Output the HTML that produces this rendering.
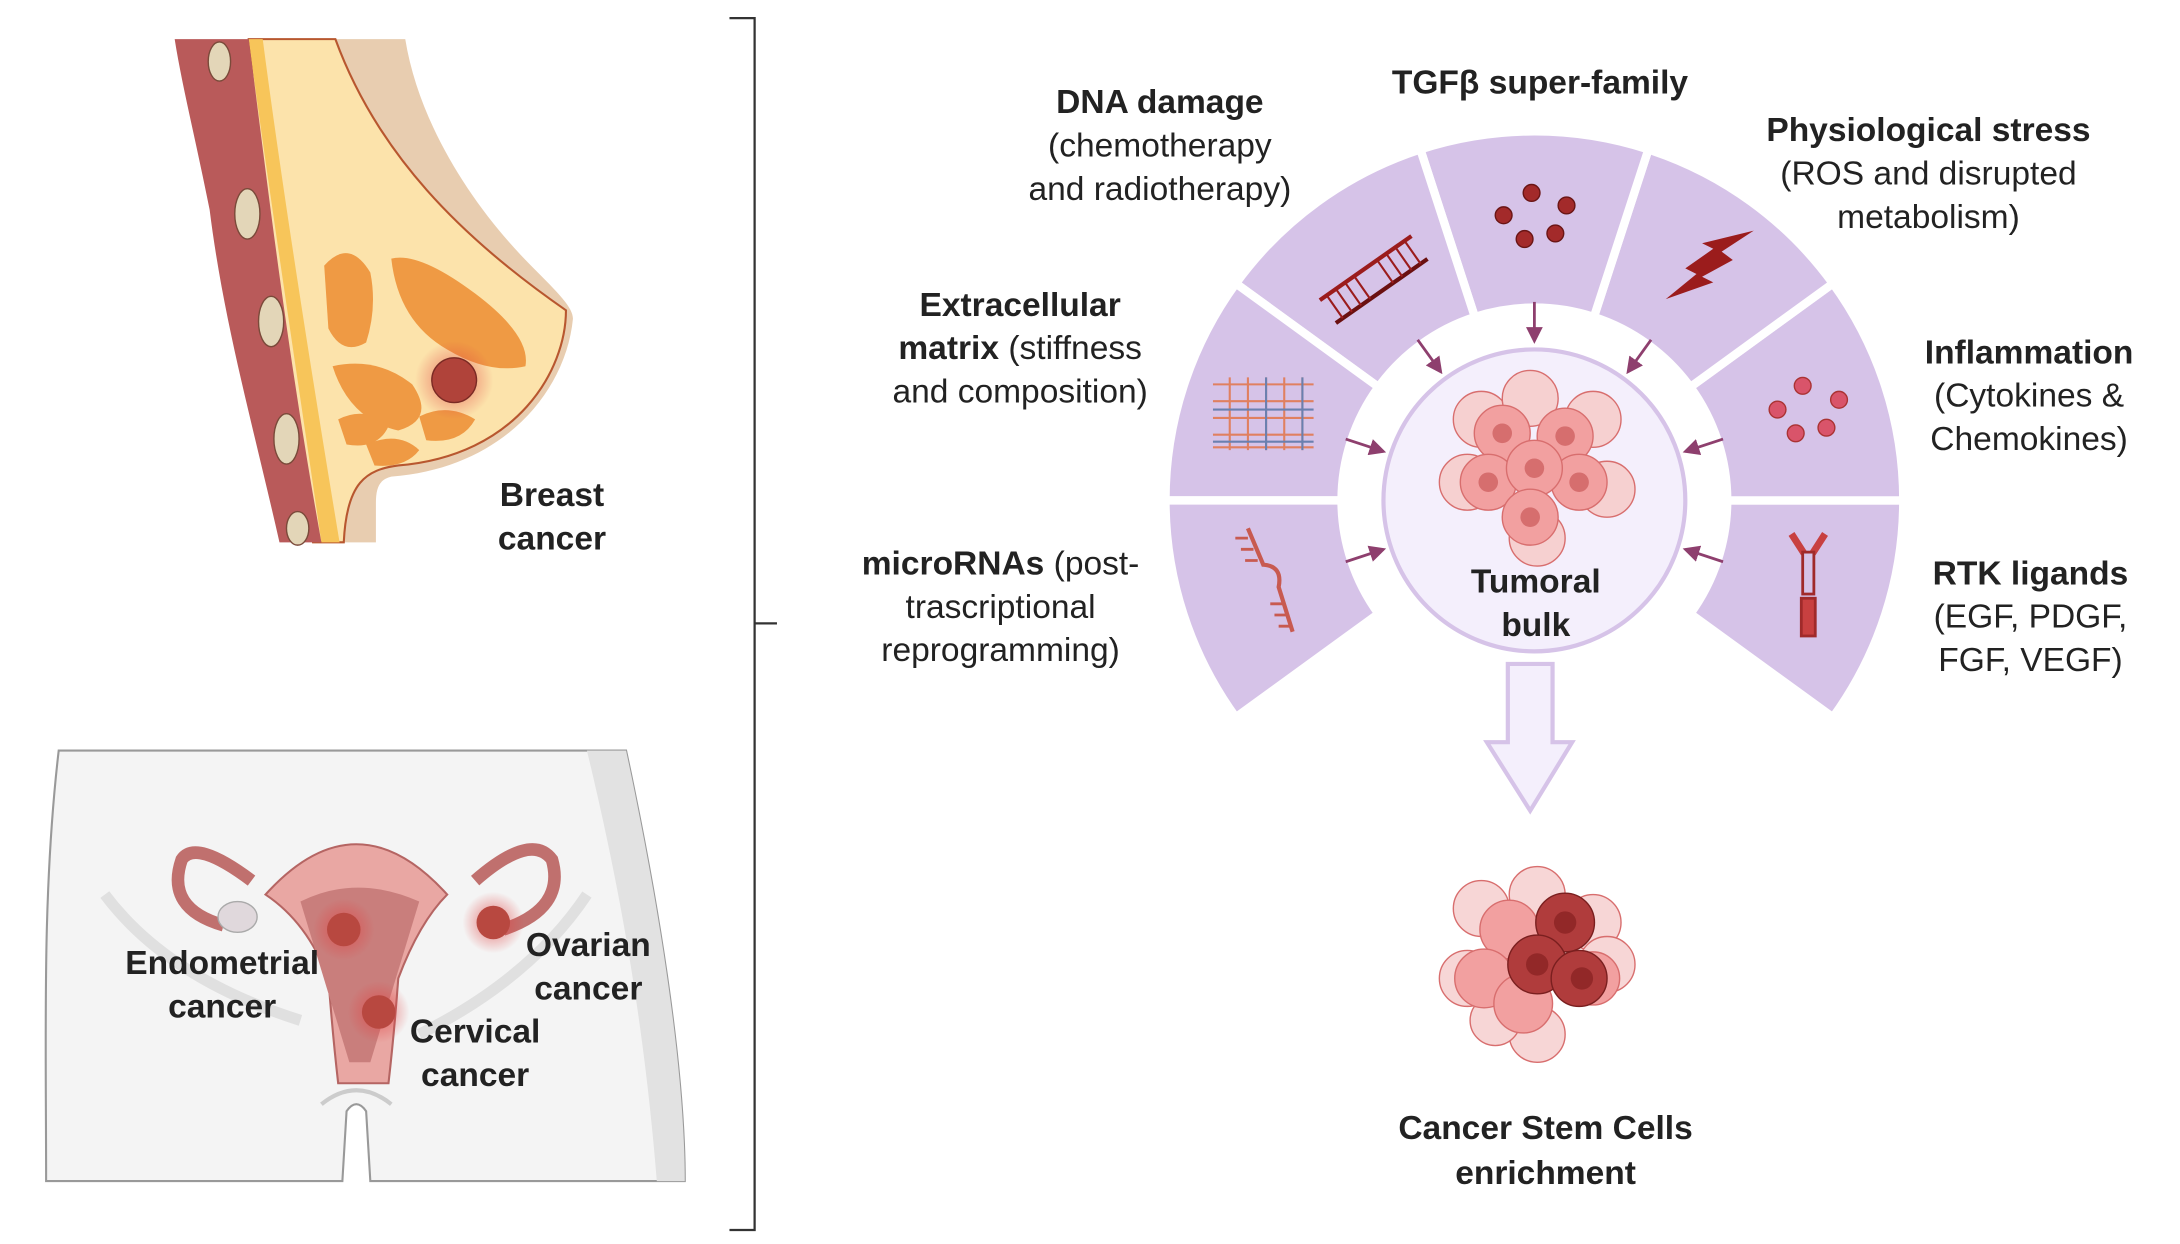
<!DOCTYPE html>
<html><head><meta charset="utf-8"><style>
html,body{margin:0;padding:0;background:#fff;}
svg{display:block}
text{font-family:"Liberation Sans",sans-serif;fill:#222;text-anchor:middle;}
.b{font-weight:bold;font-size:24px}
.r{font-size:24px}
</style></head><body>
<svg width="2180" height="1244" viewBox="0 0 1560 890" preserveAspectRatio="none" xmlns="http://www.w3.org/2000/svg">
<defs>
<marker id="ah" markerWidth="6" markerHeight="6" refX="5" refY="3" orient="auto" markerUnits="strokeWidth">
<path d="M0,0 L6,3 L0,6 Z" fill="#8e3f6e"/></marker>
<radialGradient id="glow"><stop offset="0" stop-color="#e04040" stop-opacity=".7"/><stop offset="1" stop-color="#e04040" stop-opacity="0"/></radialGradient>
</defs>

<!-- bracket -->
<path d="M522,13 H540 V880 H522 M540,446 H556" fill="none" stroke="#333" stroke-width="1.6"/>

<!-- breast -->
<path d="M236,28 H290 C300,90 340,150 380,190 C400,210 410,220 410,228 C405,280 360,335 280,341 C272,343 269,348 269,360 V388 H224 L200,28 Z" fill="#e8cdb0"/>
<path d="M178,28 H240 C270,110 330,170 405,222 C405,265 370,326 285,333 C262,336 248,345 246,388 H224 L210,300 C195,200 185,100 178,28 Z" fill="#fce3ab" stroke="#b8572f" stroke-width="1.5"/>
<path d="M178,28 H188 C200,120 220,250 243,388 H230 C210,250 190,120 178,28Z" fill="#f7c55a"/>
<path d="M125,28 H178 C190,120 205,250 230,388 H200 C180,300 160,230 150,150 C140,100 130,60 125,28Z" fill="#b95a5a"/>
<g fill="#e3d6b8" stroke="#7a4a3a" stroke-width="1">
<ellipse cx="157" cy="44" rx="8" ry="14"/><ellipse cx="177" cy="153" rx="9" ry="18"/><ellipse cx="194" cy="230" rx="9" ry="18"/><ellipse cx="205" cy="314" rx="9" ry="18"/><ellipse cx="213" cy="378" rx="8" ry="12"/>
</g>
<g fill="#ef9a44">
<path d="M232,190 Q250,170 265,195 Q270,220 262,245 Q245,255 235,235 Z"/>
<path d="M280,185 Q300,180 340,210 Q380,240 376,262 Q350,268 320,250 Q285,230 280,185Z"/>
<path d="M238,262 Q270,255 295,275 Q312,300 285,308 Q250,300 238,262Z"/>
<path d="M242,300 Q262,290 278,305 Q270,322 248,318Z"/>
<path d="M300,298 Q320,288 340,300 Q330,318 305,315Z"/>
<path d="M262,318 Q285,308 300,322 Q290,335 268,333Z"/>
</g>
<circle cx="325" cy="272" r="28" fill="url(#glow)"/>
<circle cx="325" cy="272" r="16" fill="#b0433a" stroke="#7a2a24"/>
<text class="b" x="395" y="362">Breast</text>
<text class="b" x="395" y="393">cancer</text>

<!-- pelvis -->
<path d="M42,537 H448 C470,640 490,760 490,845 H265 L262,795 Q255,785 248,795 L245,845 H33 C33,740 30,640 42,537Z" fill="#f4f4f4" stroke="#999" stroke-width="1.5"/>
<path d="M448,537 H420 C440,620 460,720 470,845 H490 C490,760 470,640 448,537Z" fill="#e2e2e2"/>
<path d="M230,790 Q255,770 280,790" fill="none" stroke="#ccc" stroke-width="3"/>
<path d="M75,640 Q120,700 215,730 M420,640 Q380,700 300,740" fill="none" stroke="#e0e0e0" stroke-width="8"/>
<!-- uterus -->
<path d="M180,630 Q140,600 130,615 Q118,650 160,662 M340,630 Q380,595 395,615 Q405,650 360,665" fill="none" stroke="#c0706e" stroke-width="9"/>
<path d="M190,640 Q255,568 320,640 Q300,660 285,700 Q282,740 278,775 H242 Q238,740 235,700 Q220,660 190,640Z" fill="#e9a7a3" stroke="#b56563" stroke-width="1.5"/>
<path d="M215,645 Q255,625 300,645 L265,760 H250 Z" fill="#c97e7c"/>
<ellipse cx="170" cy="656" rx="14" ry="11" fill="#e0d8dc" stroke="#aaa"/>
<circle cx="246" cy="665" r="22" fill="url(#glow)"/><circle cx="246" cy="665" r="12" fill="#b84840"/>
<circle cx="271" cy="724" r="22" fill="url(#glow)"/><circle cx="271" cy="724" r="12" fill="#b84840"/>
<circle cx="353" cy="660" r="22" fill="url(#glow)"/><circle cx="353" cy="660" r="12" fill="#b84840"/>
<text class="b" x="159" y="697">Endometrial</text>
<text class="b" x="159" y="728">cancer</text>
<text class="b" x="421" y="684">Ovarian</text>
<text class="b" x="421" y="715">cancer</text>
<text class="b" x="340" y="746">Cervical</text>
<text class="b" x="340" y="777">cancer</text>

<!-- ring segments -->
<g fill="#d6c3e8" stroke="#fff" stroke-width="6" stroke-linejoin="miter">
<path d="M1311.6,513.2 A264,264 0 0 0 1362,358 L1236,358 A138,138 0 0 1 1209.6,439.1Z"/>
<path d="M1362,358 A264,264 0 0 0 1311.6,202.8 L1209.6,276.9 A138,138 0 0 1 1236,358Z"/>
<path d="M1311.6,202.8 A264,264 0 0 0 1179.6,106.9 L1140.6,226.8 A138,138 0 0 1 1209.6,276.9Z"/>
<path d="M1179.6,106.9 A264,264 0 0 0 1016.4,106.9 L1055.4,226.8 A138,138 0 0 1 1140.6,226.8Z"/>
<path d="M1016.4,106.9 A264,264 0 0 0 884.4,202.8 L986.4,276.9 A138,138 0 0 1 1055.4,226.8Z"/>
<path d="M884.4,202.8 A264,264 0 0 0 834,358 L960,358 A138,138 0 0 1 986.4,276.9Z"/>
<path d="M834,358 A264,264 0 0 0 884.4,513.2 L986.4,439.1 A138,138 0 0 1 960,358Z"/>
</g>
<!-- center circle -->
<circle cx="1098" cy="358" r="108" fill="#f4effc" stroke="#d6c3e8" stroke-width="3"/>
<!-- arrows -->
<g stroke="#8e3f6e" stroke-width="2" marker-end="url(#ah)">
<line x1="1233" y1="401.9" x2="1206" y2="393"/>
<line x1="1233" y1="314.1" x2="1206" y2="323"/>
<line x1="1181.5" y1="243.1" x2="1165" y2="266"/>
<line x1="1098" y1="216" x2="1098" y2="244"/>
<line x1="1014.5" y1="243.1" x2="1031" y2="266"/>
<line x1="963" y1="314.1" x2="990" y2="323"/>
<line x1="963" y1="401.9" x2="990" y2="393"/>
</g>
<!-- icons -->
<g transform="translate(983,200) rotate(-35)" stroke="#9b1c1c" stroke-width="3" fill="none">
<line x1="-40" y1="-10" x2="40" y2="-10"/><line x1="-40" y1="10" x2="40" y2="10" stroke="#6a1010"/>
<path d="M-34,-10V10M-26,-10V10M-18,-10V10M-10,-10V10M10,-10V10M18,-10V10M26,-10V10M34,-10V10" stroke-width="1.5"/>
</g>
<g fill="#a32a2a" stroke="#6a1515"><circle cx="1096" cy="138" r="6"/><circle cx="1076" cy="154" r="6"/><circle cx="1121" cy="147" r="6"/><circle cx="1091" cy="171" r="6"/><circle cx="1113" cy="167" r="6"/></g>
<path d="M1255,165 L1232,180 L1240,186 L1218,198 L1226,202 L1192,214 L1214,196 L1206,192 L1226,178 L1218,174 Z" fill="#9b1c1c"/>
<g stroke="#e08060" stroke-width="1.5" fill="none">
<path d="M868,275 H940 M868,287 H940 M868,299 H940 M868,311 H940 M868,320 H940 M880,270 V322 M893,270 V322 M906,270 V322 M919,270 V322 M932,270 V322"/></g>
<g stroke="#6a80b0" stroke-width="1.5" fill="none"><path d="M868,293 H940 M868,316 H940 M906,270 V322 M932,270 V322"/></g>
<g fill="#d9546a" stroke="#a33"><circle cx="1290" cy="276" r="6"/><circle cx="1272" cy="293" r="6"/><circle cx="1316" cy="286" r="6"/><circle cx="1285" cy="310" r="6"/><circle cx="1307" cy="306" r="6"/></g>
<g stroke="#c85a50" stroke-width="3" fill="none"><path d="M893,378 L904,404 Q918,405 915,420 L925,452"/><path d="M893,385 H884 M897,393 H888 M900,401 H891 M918,432 H909 M921,440 H912 M924,448 H915" stroke-width="2"/></g>
<g stroke="#a02a2a" stroke-width="2" fill="#c84040"><path d="M1282,382 L1291,396 M1306,382 L1297,396" stroke-width="5" stroke="#c84040"/><rect x="1290" y="395" width="8" height="30" fill="none" stroke="#a02a2a"/><rect x="1289" y="428" width="10" height="27"/></g>
<!-- tumor cluster -->
<g stroke="#d86e6e" stroke-width="1">
<g fill="#f6d0d0"><circle cx="1060" cy="300" r="20"/><circle cx="1140" cy="300" r="20"/><circle cx="1050" cy="345" r="20"/><circle cx="1150" cy="350" r="20"/><circle cx="1100" cy="385" r="20"/><circle cx="1095" cy="285" r="20"/></g>
<g fill="#f2a0a0"><circle cx="1075" cy="310" r="20"/><circle cx="1120" cy="312" r="20"/><circle cx="1065" cy="345" r="20"/><circle cx="1130" cy="345" r="20"/><circle cx="1098" cy="335" r="20"/><circle cx="1095" cy="370" r="20"/></g>
<g fill="#d66e6e" stroke="none"><circle cx="1075" cy="310" r="7"/><circle cx="1120" cy="312" r="7"/><circle cx="1065" cy="345" r="7"/><circle cx="1130" cy="345" r="7"/><circle cx="1098" cy="335" r="7"/><circle cx="1095" cy="370" r="7"/></g>
</g>
<text class="b" x="1099" y="424">Tumoral</text>
<text class="b" x="1099" y="455">bulk</text>
<!-- down arrow -->
<path d="M1079,475 H1111 V531 H1125 L1095,580 L1064,531 H1079 Z" fill="#f4effc" stroke="#d6c3e8" stroke-width="3"/>
<!-- CSC cluster -->
<g stroke="#d86e6e" stroke-width="1">
<g fill="#f7d6d6"><circle cx="1060" cy="650" r="20"/><circle cx="1140" cy="660" r="20"/><circle cx="1050" cy="700" r="20"/><circle cx="1150" cy="690" r="20"/><circle cx="1100" cy="740" r="20"/><circle cx="1100" cy="640" r="20"/><circle cx="1070" cy="730" r="18"/></g>
<g fill="#f2a0a0"><circle cx="1080" cy="665" r="21"/><circle cx="1062" cy="700" r="21"/><circle cx="1090" cy="718" r="21"/><circle cx="1140" cy="700" r="19"/></g>
<g fill="#b03c3c" stroke="#7a1f1f"><circle cx="1120" cy="660" r="21"/><circle cx="1100" cy="690" r="21"/><circle cx="1130" cy="700" r="20"/></g>
<g fill="#922828" stroke="none"><circle cx="1120" cy="660" r="8"/><circle cx="1100" cy="690" r="8"/><circle cx="1132" cy="700" r="8"/></g>
</g>
<text class="b" x="1106" y="815">Cancer Stem Cells</text>
<text class="b" x="1106" y="847">enrichment</text>

<!-- labels -->
<text class="b" x="830" y="81">DNA damage</text>
<text class="r" x="830" y="112">(chemotherapy</text>
<text class="r" x="830" y="143">and radiotherapy)</text>
<text class="b" x="1102" y="67">TGFβ super-family</text>
<text class="b" x="1380" y="101">Physiological stress</text>
<text class="r" x="1380" y="132">(ROS and disrupted</text>
<text class="r" x="1380" y="163">metabolism)</text>
<text class="b" x="730" y="226">Extracellular</text>
<text x="730" y="257"><tspan class="b">matrix</tspan><tspan class="r"> (stiffness</tspan></text>
<text class="r" x="730" y="288">and composition)</text>
<text class="b" x="1452" y="260">Inflammation</text>
<text class="r" x="1452" y="291">(Cytokines &amp;</text>
<text class="r" x="1452" y="322">Chemokines)</text>
<text x="716" y="411"><tspan class="b">microRNAs</tspan><tspan class="r"> (post-</tspan></text>
<text class="r" x="716" y="442">trascriptional</text>
<text class="r" x="716" y="473">reprogramming)</text>
<text class="b" x="1453" y="418">RTK ligands</text>
<text class="r" x="1453" y="449">(EGF, PDGF,</text>
<text class="r" x="1453" y="480">FGF, VEGF)</text>
</svg>
</body></html>
